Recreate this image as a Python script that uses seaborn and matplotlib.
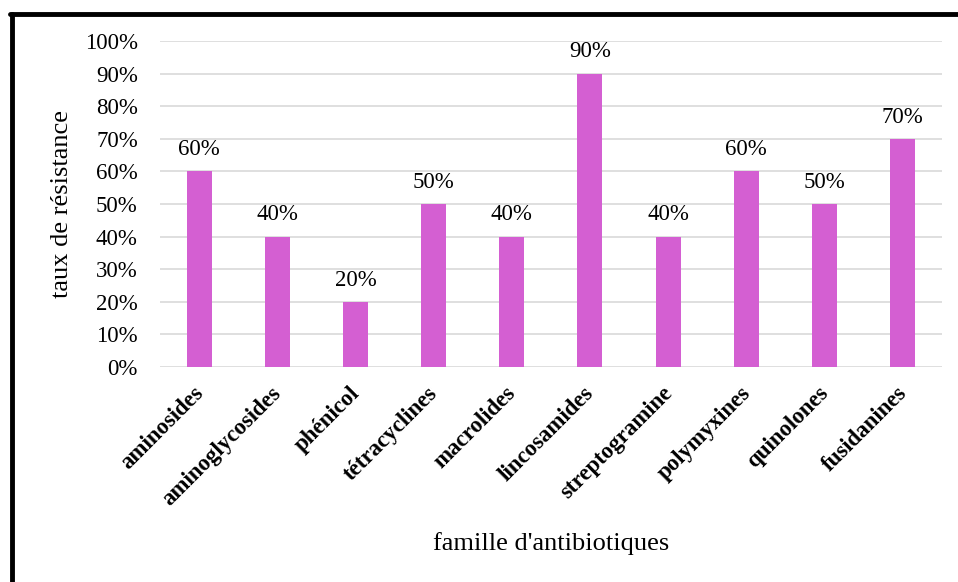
import matplotlib
matplotlib.use("Agg")
import matplotlib.pyplot as plt
from matplotlib.lines import Line2D
from matplotlib.ticker import MultipleLocator, FuncFormatter
from matplotlib.transforms import ScaledTranslation
import seaborn as sns
import pandas as pd

familles = ["aminosides", "aminoglycosides", "phénicol", "tétracyclines", "macrolides",
            "lincosamides", "streptogramine", "polymyxines", "quinolones", "fusidanines"]
taux = [60, 40, 20, 50, 40, 90, 40, 60, 50, 70]

df = pd.DataFrame({"famille": familles, "taux": taux})

sns.set_theme(style="white")
plt.rcParams["font.family"] = ["Liberation Serif", "DejaVu Serif"]
plt.rcParams["text.color"] = "black"
plt.rcParams["axes.labelcolor"] = "black"
plt.rcParams["xtick.color"] = "black"
plt.rcParams["ytick.color"] = "black"

fig = plt.figure(figsize=(9.58, 5.82), dpi=100)
ax = fig.add_axes([0.167, 0.3694, 0.816, 0.5602])

sns.barplot(data=df, x="famille", y="taux", color="#D45FD2", saturation=1,
            width=0.32, linewidth=0, ax=ax, zorder=3)

ax.set_ylim(0, 100)
ax.set_xlim(-0.5, len(familles) - 0.5)
ax.yaxis.set_major_locator(MultipleLocator(10))
ax.yaxis.set_major_formatter(FuncFormatter(lambda v, _: f"{v:.0f}%"))
ax.grid(axis="y", color="#D9D9D9", linewidth=1.2, zorder=0)
ax.set_axisbelow(True)
for s in ax.spines.values():
    s.set_visible(False)

ax.tick_params(axis="y", labelsize=16.5, length=0, pad=16)
ax.tick_params(axis="x", length=0, pad=4)
ax.set_xticks(range(len(familles)))
ax.set_xticklabels(familles, rotation=45, ha="right", rotation_mode="anchor",
                   fontsize=16.5, fontweight="bold")
shift = ScaledTranslation(-0.065, -0.10, fig.dpi_scale_trans)
for lbl in ax.get_xticklabels():
    lbl.set_transform(lbl.get_transform() + shift)

for i, v in enumerate(taux):
    ax.annotate(f"{v}%", (i, v), xytext=(0, 8), textcoords="offset points",
                ha="center", va="bottom", fontsize=16.5)

ax.set_ylabel("taux de résistance", fontsize=19)
ax.set_xlabel("famille d'antibiotiques", fontsize=19)
ax.yaxis.set_label_coords(-0.125, 0.5)
ax.xaxis.set_label_coords(0.5, -0.54)
ax.xaxis.label.set_va("center")
ax.yaxis.label.set_va("center")

# frame lines on the left and top edges of the figure
fig.add_artist(Line2D([12 / 958, 12 / 958], [0, 1 - 13.5 / 582],
                      transform=fig.transFigure, color="black", linewidth=3.5))
fig.add_artist(Line2D([10 / 958, 1], [1 - 13.5 / 582, 1 - 13.5 / 582],
                      transform=fig.transFigure, color="black", linewidth=3.5))

fig.savefig("out.png", dpi=100)
